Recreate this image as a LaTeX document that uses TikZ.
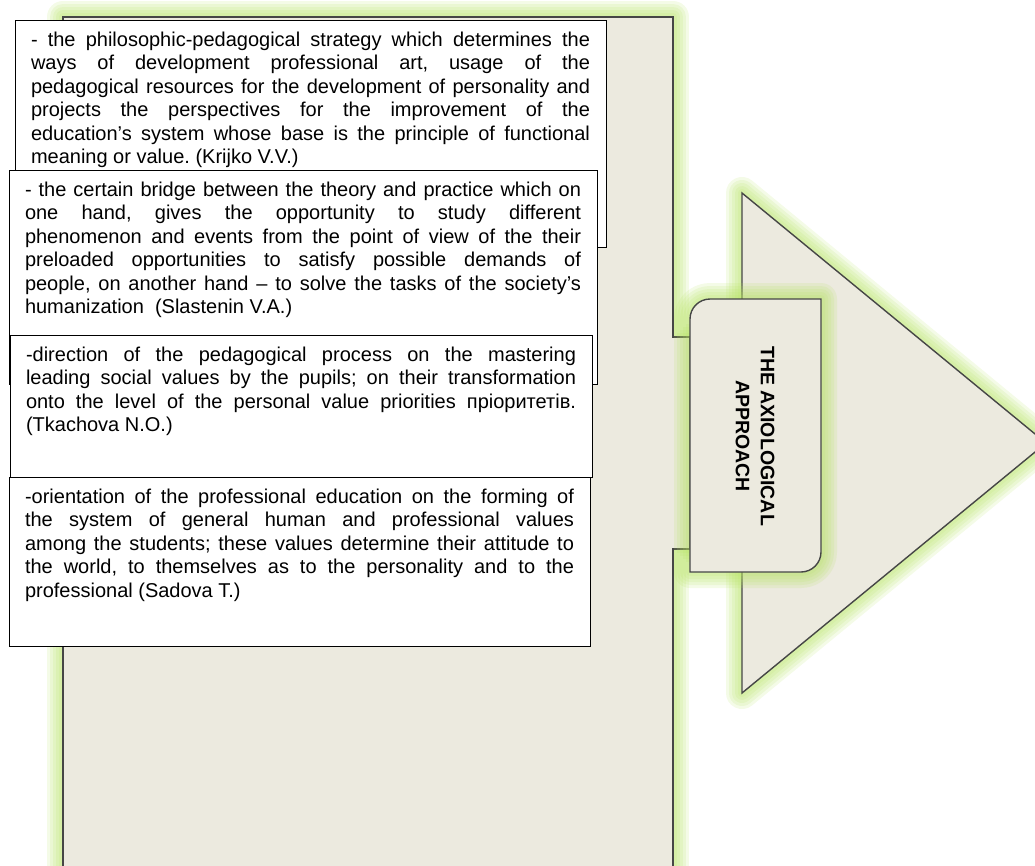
\documentclass[tikz,border=0pt]{standalone}
\usepackage{fontspec}
\setmainfont{Liberation Sans}
\usepackage{xcolor}
\usetikzlibrary{shapes,positioning}
\definecolor{panelfill}{RGB}{236,234,223}
\definecolor{panelline}{RGB}{70,70,70}
\definecolor{glowgreen}{RGB}{180,226,95}
\frenchspacing
\newcommand{\quotepar}[3]{\parbox[t][#1][t]{#2}{\tolerance=10000\hyphenpenalty=10000\exhyphenpenalty=10000 #3}}

\begin{document}
\begin{tikzpicture}[x=1pt, y=-1pt,
  glow/.style={
    preaction={draw=glowgreen, draw opacity=0.15, line width=32pt, line join=round},
    preaction={draw=glowgreen, draw opacity=0.15, line width=26pt, line join=round},
    preaction={draw=glowgreen, draw opacity=0.15, line width=20pt, line join=round},
    preaction={draw=glowgreen, draw opacity=0.15, line width=14pt, line join=round},
    preaction={draw=glowgreen, draw opacity=0.15, line width=8pt, line join=round}},
  panel/.style={glow, fill=panelfill, draw=panelline, line width=1.4pt},
  quote/.style={draw=black, line width=1pt, fill=white, anchor=north west,
    inner xsep=16pt, inner ysep=12pt, outer sep=0pt,
    font=\fontsize{20pt}{23.4pt}\selectfont}]
\useasboundingbox (0,0) rectangle (1035,865);
% Back panel with tab
\draw[panel] (63,17) -- (673,17) -- (673,337) -- (690,337) -- (690,549)
  -- (673,549) -- (673,900) -- (63,900) -- cycle;
% Arrow triangle
\draw[panel] (742,193) -- (1046,443) -- (742,693) -- cycle;
% Title box: top-left and bottom-right corners rounded
\draw[panel] (690,450) [rounded corners=20pt] -- (690,299) [sharp corners]
  -- (821,299) [rounded corners=20pt] -- (821,572) [sharp corners]
  -- (690,572) -- cycle;
\node[rotate=-90, align=center, font=\fontsize{19.5pt}{25pt}\selectfont\bfseries]
  (axlabel) at (755,436) {THE AXIOLOGICAL\\APPROACH};
% Quote 1: Krijko
\node[quote] (krijko) at (15,20) {\quotepar{203pt}{559pt}{%
- the philosophic-pedagogical strategy which determines the\linebreak
ways of development professional art, usage of the\linebreak
pedagogical resources for the development of personality and\linebreak
projects the perspectives for the improvement of the\linebreak
education’s system whose base is the principle of functional\linebreak
meaning or value. (Krijko V.V.)}};
% Quote 2: Slastenin
\node[quote] (slastenin) at (9,170) {\quotepar{190pt}{556pt}{%
- the certain bridge between the theory and practice which on\linebreak
one hand, gives the opportunity to study different\linebreak
phenomenon and events from the point of view of the their\linebreak
preloaded opportunities to satisfy possible demands of\linebreak
people, on another hand – to solve the tasks of the society’s\linebreak
humanization~ (Slastenin V.A.)}};
% Quote 3: Tkachova
\node[quote] (tkachova) at (10,335) {\quotepar{118pt}{550pt}{%
-direction of the pedagogical process on the mastering\linebreak
leading social values by the pupils; on their transformation\linebreak
onto the level of the personal value priorities пріоритетів.\linebreak
(Tkachova N.O.)}};
% Quote 4: Sadova
\node[quote] (sadova) at (9,477) {\quotepar{145pt}{549pt}{%
-orientation of the professional education on the forming of\linebreak
the system of general human and professional values\linebreak
among the students; these values determine their attitude to\linebreak
the world, to themselves as to the personality and to the\linebreak
professional (Sadova T.)}};
\end{tikzpicture}
\end{document}
